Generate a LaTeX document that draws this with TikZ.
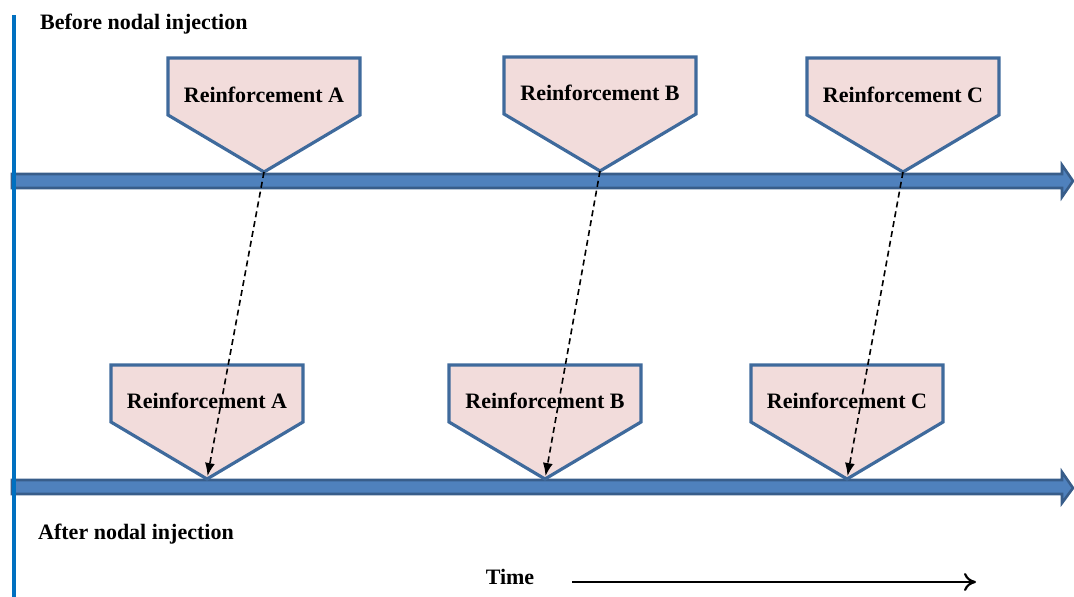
\documentclass[tikz,border=0pt]{standalone}
\usepackage{fontspec}
\setmainfont{Liberation Serif}
\usetikzlibrary{arrows.meta}
\definecolor{pinkfill}{HTML}{F2DCDB}
\definecolor{pentline}{HTML}{3F6A9C}
\definecolor{barfill}{HTML}{4F81BD}
\definecolor{barline}{HTML}{385D8A}
\definecolor{axisblue}{HTML}{0070C0}
\tikzset{
  pent/.style={fill=pinkfill, draw=pentline, line width=3.2pt, line join=miter},
  lbl/.style={font=\fontsize{22}{26}\selectfont\bfseries, inner sep=0pt},
  bar/.style={fill=barfill, draw=barline, line width=2.6pt, line join=miter},
  link/.style={line width=1.6pt, dash pattern=on 6pt off 4pt, -{Latex[length=13pt,width=10pt]}, shorten >=3pt},
  timearrow/.style={line width=2.2pt, -{To[length=12pt,width=18pt,line width=2.2pt]}}
}
\newcommand{\pentagonbox}[5]{% x-center, y-top, name, label, text y
  \draw[pent] (#1-96,#2) -- (#1+96,#2) -- (#1+96,#2+57) -- (#1,#2+114) -- (#1-96,#2+57) -- cycle;
  \coordinate (#3tip) at (#1,#2+114);
  \node[lbl] (#3) at (#1,#5) {#4};
}
\begin{document}
\begin{tikzpicture}[x=1pt,y=-1pt]
\useasboundingbox (0,0) rectangle (1074,597);
% bars
\draw[bar] (12,174) -- (1062,174) -- (1062,165) -- (1073,181) -- (1062,197) -- (1062,188) -- (12,188) -- cycle;
\draw[bar] (12,480) -- (1062,480) -- (1062,472) -- (1073,488) -- (1062,503) -- (1062,494) -- (12,494) -- cycle;
% vertical axis
\draw[axisblue, line width=4pt] (14,15) -- (14,597);
% top pentagons
\pentagonbox{264}{58}{tA}{Reinforcement A}{95}
\pentagonbox{600}{57}{tB}{Reinforcement B}{93}
\pentagonbox{903}{58}{tC}{Reinforcement C}{95}
% bottom pentagons
\pentagonbox{207}{365}{bA}{Reinforcement A}{401}
\pentagonbox{545}{365}{bB}{Reinforcement B}{401}
\pentagonbox{847}{365}{bC}{Reinforcement C}{401}
% dashed links
\draw[link] (tAtip) -- (bAtip);
\draw[link] (tBtip) -- (bBtip);
\draw[link] (tCtip) -- (bCtip);
% labels
\node[lbl, anchor=west] (before) at (40,24) {Before nodal injection};
\node[lbl, anchor=west] (after) at (38,534) {After nodal injection};
\node[lbl] (time) at (510,577) {Time};
\coordinate (ts) at (572,582);
\coordinate (te) at (976,582);
\draw[timearrow] (ts) -- (te);
\end{tikzpicture}
\end{document}
